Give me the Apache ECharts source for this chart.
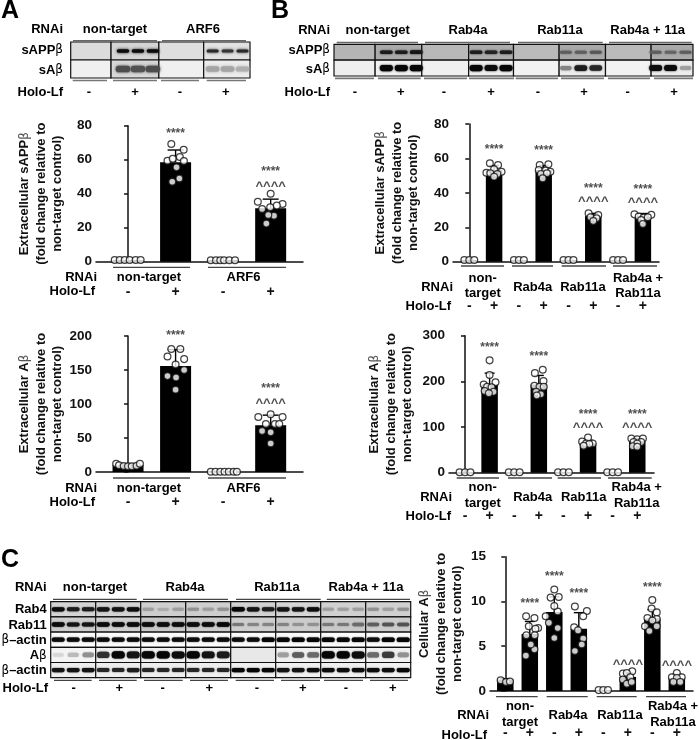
<!DOCTYPE html>
<html><head><meta charset="utf-8">
<style>html,body{margin:0;padding:0;background:#fff}#c{width:699px;height:740px}</style>
<script src="https://cdn.jsdelivr.net/npm/echarts@6/dist/echarts.min.js"></script>
</head><body><div id="c"></div>
<script>
// ---------- data ----------
const holo4 = ['-','+','-','+'];
const holo8 = ['-','+','-','+','-','+','-','+'];

// A, extracellular sAPPbeta
const a1_means = [1, 58.5, 1, 31.5];
const a1_sd = [0, 7.2, 0, 5.3];
const a1_points = [
 [[-.28,1],[-.175,1],[-.07,1],[.035,1],[.16,1],[.265,1]],
 [[-.09,69.2],[.17,65.9],[-.17,59.4],[-.06,60.6],[.09,61.6],[.175,59.2],[.02,55.5],[-.07,47],[.08,49]],
 [[-.26,.8],[-.15,.8],[-.06,.8],[.02,.8],[.13,.8],[.25,.8]],
 [[0,40],[-.27,35.3],[.25,33.9],[-.18,31],[-.01,32],[.13,33],[.07,27],[-.05,27.5],[-.09,22.4]]
];
const a1_marks = [[1,75.5,'****'],[3,53,'****'],[3,44,'^^^^']];

// A, extracellular Abeta
const a2_means = [10.5, 156, 1, 68.6];
const a2_sd = [1.5, 24, 0, 15];
const a2_points = [
 [[-.25,12.2],[-.19,9.8],[-.09,8.8],[0,8.3],[.08,8.3],[.18,9.3],[.25,12]],
 [[-.09,181],[.1,181],[-.17,170],[.18,166],[0,158],[-.17,141],[.01,139],[.18,150],[0,121]],
 [[-.26,.5],[-.16,.5],[-.06,.5],[.03,.5],[.12,.5],[.22,.5],[.29,.5]],
 [[0,85],[-.26,81],[.25,81],[-.1,70.6],[.09,70.6],[.18,70.6],[-.18,60.3],[0,58.3],[0,42]]
];
const a2_marks = [[1,200,'****'],[3,122,'****'],[3,101,'^^^^']];

// B, extracellular sAPPbeta
const b1_means = [1, 53.3, 1, 53.3, 1, 26.5, 1, 26.2];
const b1_sd = [0, 2.6, 0, 2.6, 0, 1.6, 0, 1.8];
const lowThree = [[-.2,1],[0,1],[.2,1]];
const b1_points = [
 lowThree,
 [[-.17,57.2],[.16,56.2],[-.31,51.7],[0,53.7],[.3,52.3],[-.15,51.4],[.13,51],[0,49.4]],
 lowThree,
 [[-.16,56.2],[.19,56.6],[-.2,53.3],[.07,52.9],[.27,52.3],[-.11,51],[.13,51.4],[-.04,48.4]],
 lowThree,
 [[-.19,28.1],[.2,27.1],[-.11,25.8],[.13,25.2],[0,23.6]],
 lowThree,
 [[-.34,27.5],[.34,27.3],[-.17,26.2],[.03,25.6],[.2,25.8],[-.07,24.2],[0,21.9]]
];
const b1_marks = [[1,65,'****'],[3,64.5,'****'],[5,42.2,'****'],[5,35,'^^^^'],[7,41.9,'****'],[7,34.5,'^^^^']];

// B, extracellular Abeta
const b2_means = [1, 193, 1, 193, 1, 64, 1, 68];
const b2_sd = [0, 25, 0, 20, 0, 7, 0, 7];
const b2_low = [[-.22,1],[0,1],[.22,1]];
const b2_points = [
 b2_low,
 [[0,246],[0,214],[-.24,193],[.24,198],[-.1,188],[.08,187],[-.2,179],[.16,177],[-.03,174]],
 b2_low,
 [[.16,225.5],[-.16,218],[.19,201],[-.18,190.5],[.03,188],[.2,188],[-.11,177],[.08,172],[-.08,169]],
 b2_low,
 [[0,77],[-.24,68],[.19,64],[-.08,64],[.05,63],[-.18,59]],
 b2_low,
 [[-.24,75],[0,73],[.23,75],[-.15,67],[.16,67],[0,64],[-.18,58],[0,57]]
];
const b2_marks = [[1,274,'****'],[3,255,'****'],[5,126,'****'],[5,100,'^^^^'],[7,128,'****'],[7,100,'^^^^']];

// C, cellular Abeta
const c_means = [1.28, 6.37, 8.82, 6.95, .1, 1.57, 8.09, 1.46];
const c_sd = [.1, 1.4, 1.7, 1.8, 0, .45, 1, .4];
const c_points = [
 [[-.19,1.2],[.03,1],[.19,1.06]],
 [[-.15,8.34],[.19,8.16],[.34,7.03],[-.04,7.24],[.23,6.95],[-.14,6.22],[.2,6.22],[.19,4.65],[-.16,3.95],[.04,5.2]],
 [[0,11.34],[-.15,10.43],[.18,10.5],[-.35,8.34],[.14,8.89],[-.22,7.61],[.14,7.03],[0,5.93],[0,9.5]],
 [[-.16,9.44],[.33,8.93],[.18,8.34],[-.19,7.13],[-.03,6.77],[.18,5.85],[-.16,4.46],[.12,5.2]],
 [[-.19,.1],[0,.1],[.19,.12]],
 [[.18,2.2],[-.2,1.94],[-.04,2],[.1,1.54],[-.2,1.28],[-.04,.8],[.16,1]],
 [[0,10.17],[-.03,9.22],[.18,8.78],[-.2,8.16],[.18,8.05],[0,7.87],[-.3,7.24],[.18,7.24],[-.12,6.7]],
 [[0,2],[-.2,1.54],[.2,1.54],[0,1.46],[-.14,1],[.14,1]]
];
const c_marks = [[1,9.8,'****'],[2,12.8,'****'],[3,10.87,'****'],[5,3.0,'^^^^'],[6,11.5,'****'],[7,2.9,'^^^^']];

// blots: band darkness per lane (0..1) and background grey per section
const blotA_bands = [
 [0,0,0, .95,.95,.95, 0,0,0, .78,.72,.78],
 [0,0,0, .62,.6,.62, 0,0,0, .28,.28,.24]
];
const blotA_bg = [[220,212,222,226],[240,216,240,236]];

const blotB_bands = [
 [0,0,0, .85,.85,.88, 0,0,0, .85,.82,.85, 0,0,0, .55,.55,.58, 0,0,0, .55,.52,.55],
 [0,0,0, 1,1,1, 0,0,0, 1,.95,1, 0,0,0, .4,.85,.8, 0,0,0, .95,.95,.3]
];
const blotB_bg = [[181,170,184,172,186,168,186,170],[238,240,240,238,242,236,242,236]];

const blotC_bands = [
 [.95,.85,.85, .9,.9,.95, .3,.25,.3, .35,.3,.35, 1,.9,.85, .9,.9,.95, .3,.3,.3, .35,.3,.35],
 [.95,.9,.9, .95,.95,.95, .95,.95,.95, .95,.95,1, .45,.4,.4, .4,.35,.35, .45,.45,.5, .55,.6,.6],
 [.95,.95,.95, .95,.95,.95, .95,.95,.95, .95,.95,.95, .95,.95,1, 1,1,1, 1,1,1, .95,1,1],
 [.1,.2,.35, .75,1,.9, 1,1,.95, 1,.9,.85, 0,0,0, .3,.55,.5, 1,1,.95, .5,.7,.35],
 [.9,.9,.9, .8,.8,.85, .8,.8,.8, .8,.8,.8, 1,1,1, .9,.9,.95, .95,.95,.95, .95,.95,1]
];
const blotC_bg = [
 [212,212,206,206,210,214,208,208],
 [205,208,200,204,206,204,200,204],
 [252,252,252,252,252,252,252,252],
 [244,240,240,240,232,240,240,240],
 [238,238,238,238,240,240,240,240]
];

// ---------- drawing ----------
const FONT = '"Liberation Sans", Arial, sans-serif';
const INK = '#111';
const rich = {
  b:{fontFamily:FONT,fontWeight:'bold',fontSize:13,color:INK,lineHeight:16.5},
  g:{fontFamily:'"DejaVu Sans"',fontWeight:'normal',fontSize:12,color:'#555',lineHeight:16.5}
};
function betaText(s){
  return s.split('\n').map(line => line.split('β').map(p => p ? '{b|'+p+'}' : '').join('{g|β}')).join('\n');
}
const opt = {animation:false, backgroundColor:'#fff', grid:[], xAxis:[], yAxis:[], series:[], graphic:[]};

function text(s,x,y,align,size){
  opt.graphic.push({type:'text',silent:true,x,y,style:{
    text:betaText(s),rich:size?{b:Object.assign({},rich.b,{fontSize:size}),g:rich.g}:rich,
    align:align||'center',verticalAlign:'middle',textAlign:align||'center',textVerticalAlign:'middle'}});
}
function rule(x1,x2,y,color,w){
  opt.graphic.push({type:'line',silent:true,shape:{x1,y1:y,x2,y2:y},style:{stroke:color||'#444',lineWidth:w||1.3}});
}

function barChart(c){
  const g = opt.grid.length;
  opt.grid.push({left:c.left,top:c.top,width:c.width,height:c.height,containLabel:false});
  opt.xAxis.push({type:'value',gridIndex:g,min:c.xmin,max:c.xmax,splitLine:{show:false},
    axisLine:{onZero:false,lineStyle:{color:INK,width:1.5}},axisTick:{show:false},
    axisLabel:{customValues:c.holo.map((_,i)=>i),formatter:v=>c.holo[v],margin:c.holoGap,fontFamily:FONT,fontWeight:'bold',fontSize:14,color:INK,hideOverlap:false,showMinLabel:true,showMaxLabel:true}});
  opt.yAxis.push({type:'value',gridIndex:g,min:0,max:c.ymax,interval:c.step,splitLine:{show:false},
    axisLine:{show:true,lineStyle:{color:INK,width:1.5}},axisTick:{show:true,length:4,lineStyle:{color:INK,width:1.5}},
    axisLabel:{margin:4,fontFamily:FONT,fontWeight:'bold',fontSize:13.5,color:INK},
    name:betaText(c.name),nameLocation:'middle',nameRotate:90,nameGap:c.nameGap,nameTextStyle:{rich}});
  const base = {xAxisIndex:g,yAxisIndex:g};
  opt.series.push(Object.assign({type:'bar',name:c.id+' mean',z:2,barWidth:c.barW,itemStyle:{color:'#000'},
    data:c.means.map((v,i)=>[i,v])},base));
  opt.series.push(Object.assign({type:'custom',name:c.id+' sd',z:3,clip:false,
    data:c.means.map((v,i)=>[i,v,c.sd[i]]),
    encode:{x:0,y:1},
    renderItem:(p,api)=>{
      const x=api.value(0),m=api.value(1),s=api.value(2);
      if(!s) return null;
      const a=api.coord([x,m]),b=api.coord([x,m+s]);
      const st={stroke:'#000',lineWidth:1.4};
      return {type:'group',children:[
        {type:'line',shape:{x1:a[0],y1:a[1],x2:b[0],y2:b[1]},style:st},
        {type:'line',shape:{x1:b[0]-c.cap,y1:b[1],x2:b[0]+c.cap,y2:b[1]},style:st}]};
    }},base));
  const pts=[];c.points.forEach((l,i)=>l.forEach(q=>pts.push([i+q[0],q[1]])));
  opt.series.push(Object.assign({type:'scatter',name:c.id+' points',z:4,clip:false,symbol:'circle',symbolSize:c.dot||6.8,
    itemStyle:{color:'#fff',borderColor:'#111',borderWidth:1.25},data:pts},base));
  opt.series.push(Object.assign({type:'scatter',name:c.id+' marks',z:5,clip:false,symbolSize:1,itemStyle:{color:'rgba(0,0,0,0)'},
    silent:true,data:c.marks,
    label:{show:true,position:'inside',formatter:p=>p.value[2][0]==='^'?'{h|^^^^}':'{s|****}',
      rich:{h:{fontFamily:FONT,fontWeight:'bold',color:'#222',fontSize:13},s:{fontFamily:FONT,fontWeight:'bold',color:'#222',fontSize:12}}}},base));
}

function blot(c){
  const g = opt.grid.length;
  const rows=c.bands.length, lanes=c.bands[0].length;
  opt.grid.push({left:c.left,top:c.top,width:c.width,height:c.height});
  opt.xAxis.push({type:'value',gridIndex:g,min:0,max:lanes,show:false});
  opt.yAxis.push({type:'value',gridIndex:g,min:0,max:rows,inverse:true,show:false});
  const base={xAxisIndex:g,yAxisIndex:g};
  const cells=[];
  c.bg.forEach((r,ri)=>r.forEach((v,si)=>cells.push([c.edges[si],c.edges[si+1],ri,v])));
  opt.series.push(Object.assign({type:'custom',name:c.id+' panels',z:1,silent:true,clip:false,data:cells,encode:{x:0,y:2},
    renderItem:(p,api)=>{
      const a=api.coord([api.value(0),api.value(2)]),b=api.coord([api.value(1),api.value(2)+1]);
      const v=api.value(3);
      return {type:'rect',z2:1,shape:{x:a[0],y:a[1],width:b[0]-a[0],height:b[1]-a[1]},style:{fill:'rgb('+v+','+v+','+v+')',stroke:'#111',lineWidth:1.2}};
    }},base));
  const bandData=[];
  c.bands.forEach((r,ri)=>r.forEach((v,li)=>{if(v>0)bandData.push([li+.5,ri+.5,v]);}));
  opt.series.push(Object.assign({type:'custom',name:c.id+' bands',z:2,silent:true,clip:false,data:bandData,encode:{x:0,y:1},
    renderItem:(p,api)=>{
      const o=api.coord([api.value(0),api.value(1)]),v=api.value(2),ri=Math.floor(api.value(1));
      const bw=Array.isArray(c.bandW)?c.bandW[ri]:c.bandW;
      const w=bw*(.85+.2*v),h=c.bandH[ri]*(.55+.55*v);
      const k=Math.round(238*Math.pow(1-v,1.25)+6);
      const col='rgb('+k+','+k+','+k+')';
      return {type:'rect',shape:{x:o[0]-w/2,y:o[1]-h/2,width:w,height:h,r:h/2},
        style:{fill:col,shadowBlur:c.blur,shadowColor:col}};
    }},base));
}

// --- blots and their headers ---
blot({id:'A',left:70.7,top:42,width:179.3,height:36,bands:blotA_bands,bg:blotA_bg,edges:[0,2.7,5.9,8.9,12],bandW:[12,15],bandH:[3.2,7.5],blur:3});
blot({id:'B',left:334,top:44.3,width:359,height:31.7,bands:blotB_bands,bg:blotB_bg,edges:[0,2.75,5.87,9,12,15.05,18.15,21.2,24],bandW:12.5,bandH:[3.6,5.6],blur:2});
blot({id:'C',left:50.7,top:601.7,width:360,height:76,bands:blotC_bands,bg:blotC_bg,edges:[0,3,6,9,12,15,18,21,24],bandW:12.5,bandH:[4,4,4,6.5,4],blur:1.5});

// panel letters
text('A',10,11,'center',25); text('B',280,11,'center',25); text('C',10,560,'center',25);

// A header
text('RNAi',63,29,'right'); text('non-target',115,29); text('ARF6',203,29);
[[73,157],[162,246]].forEach(p=>rule(p[0],p[1],40.7,'#666'));
text('sAPPβ',63,50,'right'); text('sAβ',63,70,'right');
[[72.7,107],[113,157],[161,199],[206.7,246]].forEach(p=>rule(p[0],p[1],80.5,'#777',1.6));
text('Holo-Lf',63,92,'right');
['-','+','-','+'].forEach((s,i)=>text(s,[89,135,180,225.7][i],92));

// B header
text('RNAi',330,30,'right'); text('non-target',377.7,30); text('Rab4a',468,30); text('Rab11a',560,30); text('Rab4a + 11a',647.7,30);
[[336.7,418],[425,510],[518,602.7],[609,691.7]].forEach(p=>rule(p[0],p[1],42.5,'#666'));
text('sAPPβ',330,50,'right'); text('sAβ',330,69,'right');
[[335,374],[378,420.7],[424,467],[469,514],[515.7,558],[561,604],[608,650],[654,693]].forEach(p=>rule(p[0],p[1],78.3,'#777',1.8));
text('Holo-Lf',330,92,'right');
holo8.forEach((s,i)=>text(s,[355,400.7,444,491,538,584,627.7,674][i],92));

// C header
text('RNAi',46.7,587.5,'right'); text('non-target',95,587.5); text('Rab4a',185,587.5); text('Rab11a',277,587.5); text('Rab4a + 11a',366,587.5);
[[53,136.7],[143,228],[236,320.7],[326.7,410]].forEach(p=>rule(p[0],p[1],599.4));
['Rab4','Rab11','β–actin','Aβ','β–actin'].forEach((s,i)=>text(s,46.7,[609.5,625,640,655.5,670.5][i],'right'));
[[54,91.7],[99,136.7],[144,182.7],[190,228],[235.7,274],[281,320],[324,363],[370,408]].forEach(p=>rule(p[0],p[1],680.4));
text('Holo-Lf',48,688.5,'right');
holo8.forEach((s,i)=>text(s,[73.7,119.3,162.7,209.3,257,302.7,346,392.7][i],688.5));

// --- bar charts ---
barChart({id:'A sAPPb',left:96,top:125.7,width:207,height:136,xmin:-.674,xmax:3.68,ymax:80,step:20,means:a1_means,sd:a1_sd,points:a1_points,marks:a1_marks,
  holo:holo4,holoGap:23,barW:31,cap:8,nameGap:30,name:'Extracellular sAPPβ\n(fold change relative to\nnon-target control)'});
barChart({id:'A Ab',left:96,top:336,width:207,height:136,xmin:-.674,xmax:3.68,ymax:200,step:50,means:a2_means,sd:a2_sd,points:a2_points,marks:a2_marks,
  holo:holo4,holoGap:23,barW:31,cap:8,nameGap:30,name:'Extracellular Aβ\n(fold change relative to\nnon-target control)'});
barChart({id:'B sAPPb',left:453,top:124,width:206,height:137.7,xmin:-.657,xmax:7.65,ymax:80,step:20,means:b1_means,sd:b1_sd,points:b1_points,marks:b1_marks,
  holo:holo8,holoGap:37,barW:16.5,cap:5,nameGap:31,name:'Extracellular sAPPβ\n(fold change relative to\nnon-target control)'});
barChart({id:'B Ab',left:449,top:335.7,width:205,height:137,xmin:-.65,xmax:7.68,ymax:300,step:100,means:b2_means,sd:b2_sd,points:b2_points,marks:b2_marks,
  holo:holo8,holoGap:36,barW:16.5,cap:5,nameGap:33,name:'Extracellular Aβ\n(fold change relative to\nnon-target control)'});
barChart({id:'C Ab',left:490,top:556.7,width:203,height:136.6,xmin:-.624,xmax:7.66,ymax:15,step:5,means:c_means,sd:c_sd,points:c_points,marks:c_marks,
  holo:holo8,holoGap:35,barW:16.5,cap:5,nameGap:24,name:'Cellular Aβ\n(fold change relative to\nnon-target control)'});

// axis group rows
[[113,190],[208,286]].forEach(p=>{rule(p[0],p[1],267.3);rule(p[0],p[1],478);});
[261.7,472].forEach(a=>{
  text('RNAi',97,a+16,'right'); text('non-target',149,a+16); text('ARF6',243.5,a+16);
  text('Holo-Lf',95,a+30,'right');
});
function group8(rows){
  rows.ul.forEach(p=>rule(p[0],p[1],rows.ulY));
  text('RNAi',rows.rx,rows.midY,'right');
  text('non-',rows.c[0],rows.l1Y); text('target',rows.c[0],rows.l2Y);
  text('Rab4a',rows.c[1],rows.midY); text('Rab11a',rows.c[2],rows.midY);
  text('Rab4a +',rows.c[3],rows.l1Y); text('Rab11a',rows.c[3],rows.l2Y);
  text('Holo-Lf',rows.hx,rows.hY,'right');
}
group8({ul:[[461,504],[512,553],[561.7,606],[613,657]],ulY:266,rx:453,midY:287,c:[482.7,532.7,583,638],l1Y:278,l2Y:293,hx:451,hY:306});
group8({ul:[[456.7,499],[508,552],[557.7,601],[608,651.7]],ulY:478,rx:452,midY:497,c:[482.7,532.7,583.7,636.7],l1Y:487,l2Y:503,hx:451,hY:516});
group8({ul:[[496,537.7],[546.7,587.7],[596.7,636.7],[646,686]],ulY:696.7,rx:489,midY:715,c:[520,568,620,673],l1Y:706.7,l2Y:722.7,hx:487,hY:735});

const chart = echarts.init(document.getElementById('c'),null,{renderer:'canvas',width:699,height:740});
chart.setOption(opt);
</script></body></html>
